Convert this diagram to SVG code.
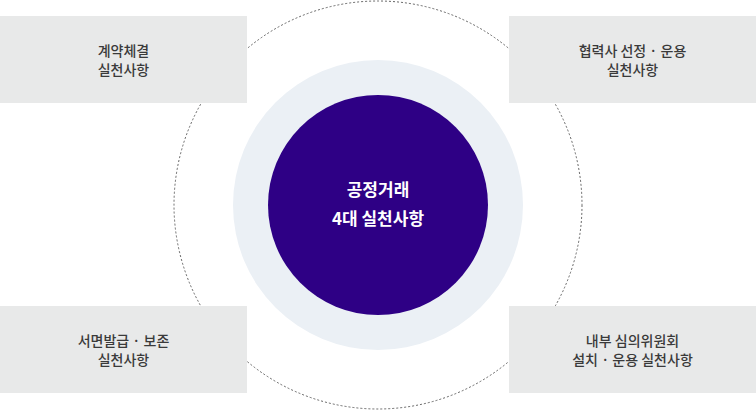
<svg xmlns="http://www.w3.org/2000/svg" width="756" height="410" viewBox="0 0 756 410">
<style>
.box{fill:#e8e9e9}
.lbl{font-family:"Noto Sans CJK KR","Noto Sans",sans-serif;font-size:14px;font-weight:500;fill:#3a3a3a;text-anchor:middle}
.ctr{font-family:"Noto Sans CJK KR","Noto Sans",sans-serif;font-size:17px;font-weight:bold;fill:#ffffff;text-anchor:middle}
.dot{fill:none;stroke:#666;stroke-width:1;stroke-dasharray:2 2}
</style>
<rect width="756" height="410" fill="#ffffff"/>
<g id="connectors">
<circle class="dot" cx="378" cy="205" r="204"/>
</g>
<g id="center">
<circle cx="378" cy="205" r="145" fill="#ebf0f5"/>
<circle cx="378" cy="205" r="110" fill="#2e0085"/>
<text class="ctr" x="378" y="196">공정거래</text>
<text class="ctr" x="378" y="225">4대 실천사항</text>
</g>
<g id="node-tl">
<rect class="box" x="0" y="16" width="247" height="87"/>
<text class="lbl" x="123.5" y="55.5">계약체결</text>
<text class="lbl" x="123.5" y="75">실천사항</text>
</g>
<g id="node-tr">
<rect class="box" x="509" y="16" width="247" height="87"/>
<text class="lbl" x="632.5" y="55.5">협력사 선정 · 운용</text>
<text class="lbl" x="632.5" y="75">실천사항</text>
</g>
<g id="node-bl">
<rect class="box" x="0" y="306" width="247" height="87"/>
<text class="lbl" x="123.5" y="345.5">서면발급 · 보존</text>
<text class="lbl" x="123.5" y="365">실천사항</text>
</g>
<g id="node-br">
<rect class="box" x="509" y="306" width="247" height="87"/>
<text class="lbl" x="632.5" y="345.5">내부 심의위원회</text>
<text class="lbl" x="632.5" y="365">설치 · 운용 실천사항</text>
</g>
</svg>
